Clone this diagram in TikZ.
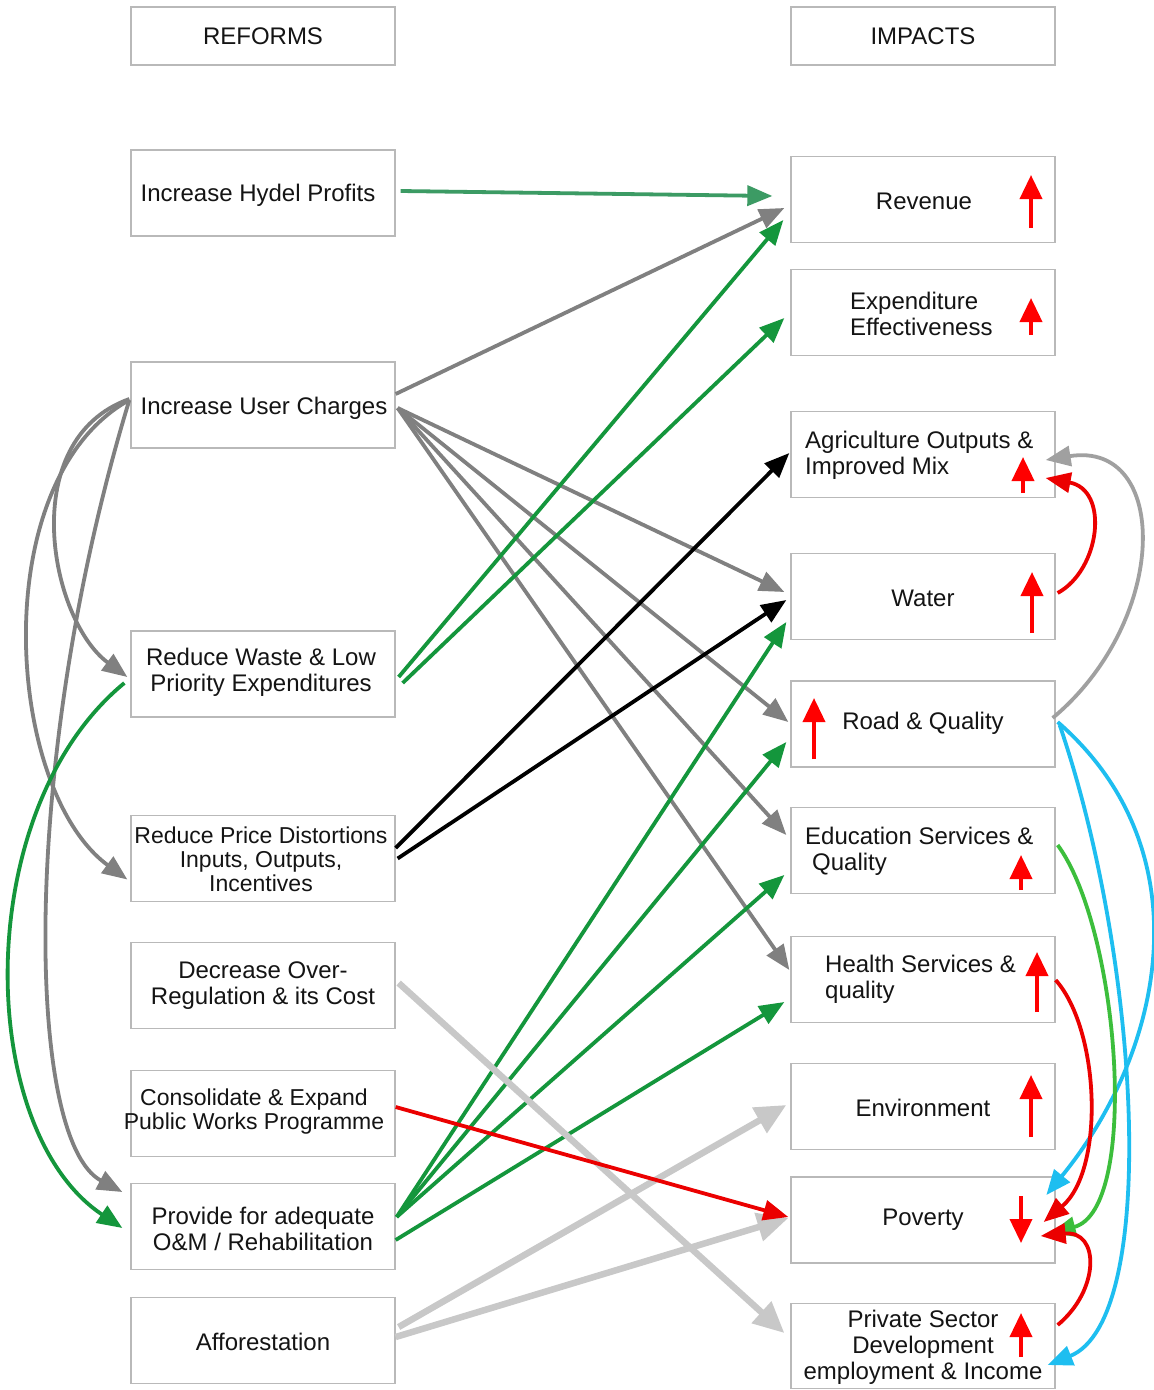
\documentclass[tikz,border=0pt]{standalone}
\usepackage{fontspec}
\setmainfont{Liberation Sans}
\usetikzlibrary{arrows.meta,calc}
\definecolor{boxgray}{RGB}{185,185,185}
\definecolor{txtc}{RGB}{20,20,20}
\definecolor{cgreen}{RGB}{20,150,60}
\definecolor{hgreen}{RGB}{60,155,100}
\definecolor{cgray}{RGB}{128,128,128}
\definecolor{clgray}{RGB}{200,200,200}
\definecolor{cmgray}{RGB}{160,160,160}
\definecolor{cred}{RGB}{235,0,0}
\definecolor{ccyan}{RGB}{30,190,240}
\definecolor{clgreen}{RGB}{60,190,60}
\tikzset{
  box/.style={draw=boxgray,line width=1.3pt,minimum width=264pt,minimum height=86pt,inner sep=0pt},
  hbox/.style={box,minimum height=58pt},
  txt/.style={font=\fontsize{24}{26}\selectfont,text=txtc,inner sep=0pt,align=center},
  stxt/.style={txt,font=\fontsize{23}{24}\selectfont},
  arr/.style={line width=3.8pt,-{Triangle[length=25pt,width=20pt]}},
  bigarr/.style={line width=6.5pt,-{Triangle[length=31pt,width=28pt]}},
  ind/.style={draw=red,line width=3.8pt,-{Triangle[length=24pt,width=22pt]}}
}
\begin{document}
\begin{tikzpicture}[x=1pt,y=-1pt]
\useasboundingbox[fill=white] (0,0) rectangle (1154,1390);
% ---------- boxes ----------
\node[hbox] (reforms) at (263,36) {};
\node[box] (hydel) at (263,193) {};
\node[box] (user) at (263,405) {};
\node[box] (waste) at (263,674) {};
\node[box] (price) at (263,858.5) {};
\node[box] (dereg) at (263,985.5) {};
\node[box] (pwp) at (263,1113.5) {};
\node[box] (om) at (263,1226.5) {};
\node[box] (affor) at (263,1340.5) {};
\node[hbox] (impacts) at (923,36) {};
\node[box] (revenue) at (923,199.5) {};
\node[box] (expend) at (923,312.5) {};
\node[box] (agri) at (923,454.5) {};
\node[box] (water) at (923,596.5) {};
\node[box] (road) at (923,724) {};
\node[box] (edu) at (923,850.5) {};
\node[box] (health) at (923,979.5) {};
\node[box] (env) at (923,1106.5) {};
\node[box] (pov) at (923,1220) {};
\node[box,minimum height=85pt] (priv) at (923,1346) {};
% ---------- texts ----------
\node[txt] (reforms-t) at (263,36) {REFORMS};
\node[txt] (hydel-t) at (258,195) {Increase Hydel Profits};
\node[txt] (user-t) at (264,408) {Increase User Charges};
\node[txt] (waste-t) at (261,672) {Reduce Waste \& Low\\Priority Expenditures};
\node[stxt] (price-t) at (261,859) {Reduce Price Distortions\\Inputs, Outputs,\\Incentives};
\node[txt] (dereg-t) at (263,986) {Decrease Over-\\Regulation \& its Cost};
\node[stxt] (pwp-t) at (254,1112) {Consolidate \& Expand\\Public Works Programme};
\node[txt] (om-t) at (263,1229) {Provide for adequate\\O\&M / Rehabilitation};
\node[txt] (affor-t) at (263,1342) {Afforestation};
\node[txt] (impacts-t) at (923,36) {IMPACTS};
\node[txt] (revenue-t) at (924,201) {Revenue};
\node[txt,align=left,anchor=west] (expend-t) at (850,314) {Expenditure\\Effectiveness};
\node[txt,align=left,anchor=west] (agri-t) at (805,455) {Agriculture Outputs \&\\Improved Mix};
\node[txt] (water-t) at (923,598) {Water};
\node[txt] (road-t) at (923,723) {Road \& Quality};
\node[txt,align=left,anchor=west] (edu-t) at (805,851) {Education Services \&\\\hspace{7pt}Quality};
\node[txt,align=left,anchor=west] (health-t) at (825,979) {Health Services \&\\quality};
\node[txt] (env-t) at (923,1108) {Environment};
\node[txt] (pov-t) at (923,1220) {Poverty};
\node[txt] (priv-t) at (923,1347) {Private Sector\\Development\\employment \& Income};
% ---------- indicator arrows ----------
\draw[ind] (1031,228) -- (1031,175);
\draw[ind] (1031,335) -- (1031,298);
\draw[ind] (1023,493) -- (1023,457);
\draw[ind] (1032,633) -- (1032,572);
\draw[ind] (814,759) -- (814,698);
\draw[ind] (1021,890) -- (1021,855);
\draw[ind] (1037,1012) -- (1037,952);
\draw[ind] (1031,1137) -- (1031,1075);
\draw[ind] (1021,1196) -- (1021,1243);
\draw[ind] (1021,1357) -- (1021,1313);
% ---------- straight connectors ----------
\draw[arr,draw=hgreen] ($(hydel.east)+(5,-2)$) -- ($(revenue.west)+(-18,-3.5)$);
\draw[arr,draw=cgray] ($(user.east)+(0,-11)$) -- ($(revenue.west)+(-6,8.5)$);
\draw[arr,draw=cgray] ($(user.east)+(2,3)$) -- ($(water.west)+(-6,-4.5)$);
\draw[arr,draw=cgray] ($(user.east)+(2,3)$) -- ($(road.west)+(-2,-2)$);
\draw[arr,draw=cgray] ($(user.east)+(2,3)$) -- ($(edu.west)+(-4,-15.5)$);
\draw[arr,draw=cgray] ($(user.east)+(2,3)$) -- ($(health.west)+(-1,-9.5)$);
\draw[arr,draw=cgreen] ($(waste.east)+(3,3)$) -- ($(revenue.west)+(-7,20.5)$);
\draw[arr,draw=cgreen] ($(waste.east)+(7,9)$) -- ($(expend.west)+(-6,5.5)$);
\draw[arr,draw=black] ($(price.east)+(0,-10.5)$) -- ($(agri.west)+(-1,-1.5)$);
\draw[arr,draw=black] ($(price.east)+(2,0)$) -- ($(water.west)+(-4,3.5)$);
\draw[arr,draw=cgreen] ($(om.east)+(1,-9.5)$) -- ($(water.west)+(-4,25.5)$);
\draw[arr,draw=cgreen] ($(om.east)+(1,-9.5)$) -- ($(road.west)+(-4,18)$);
\draw[arr,draw=cgreen] ($(om.east)+(1,-9.5)$) -- ($(edu.west)+(-6,24.5)$);
\draw[arr,draw=cgreen] ($(om.east)+(0,13.5)$) -- ($(health.west)+(-6,22.5)$);
\draw[bigarr,draw=clgray] ($(dereg.east)+(3,-2.5)$) -- ($(priv.west)+(-6,-13)$);
\draw[bigarr,draw=clgray] ($(affor.east)+(3,-13.5)$) -- ($(env.west)+(-4,-1.5)$);
\draw[bigarr,draw=clgray] ($(affor.east)+(0,-3.5)$) -- ($(pov.west)+(-2,-2)$);
\draw[arr,draw=cred] ($(pwp.east)+(0,-6.5)$) -- ($(pov.west)+(-2,-3)$);
% ---------- left curves ----------
\draw[arr,draw=cgray] ($(user.west)+(-1,-6)$) .. controls (15,440) and (50,620) .. ($(waste.west)+(-3,3)$);
\draw[arr,draw=cgray] ($(user.west)+(-1,-5)$) .. controls (-15,480) and (5,790) .. ($(price.west)+(-3,21)$);
\draw[arr,draw=cgray] ($(user.west)+(-1,-5)$) .. controls (20,760) and (25,1140) .. ($(om.west)+(-8,-34.5)$);
\draw[arr,draw=cgreen] ($(waste.west)+(-6,9)$) .. controls (-30,810) and (-25,1130) .. ($(om.west)+(-8,1.5)$);
% ---------- right curves ----------
\draw[arr,draw=cred] ($(water.east)+(2,-3.5)$) .. controls (1100,570) and (1110,490) .. ($(agri.east)+(-10,23.5)$);
\draw[arr,draw=cmgray] ($(road.east)+(-3,-6)$) .. controls (1170,620) and (1170,440) .. ($(agri.east)+(-10,5.5)$);
\draw[arr,draw=ccyan] ($(road.east)+(2,-2)$) .. controls (1205,850) and (1165,1050) .. ($(pov.west)+(256,-25)$);
\draw[arr,draw=ccyan] ($(road.east)+(4,1)$) .. controls (1140,960) and (1160,1320) .. ($(priv.east)+(-8,19)$);
\draw[arr,draw=clgreen] ($(edu.east)+(2,-5.5)$) .. controls (1120,930) and (1140,1210) .. ($(pov.east)+(-5,13)$);
\draw[arr,draw=cred] ($(health.east)+(0,0.5)$) .. controls (1100,1030) and (1105,1170) .. ($(pov.east)+(-12,2)$);
\draw[arr,draw=cred] ($(priv.east)+(2,-21)$) .. controls (1100,1290) and (1100,1230) .. ($(pov.east)+(-15,16)$);
\end{tikzpicture}
\end{document}
